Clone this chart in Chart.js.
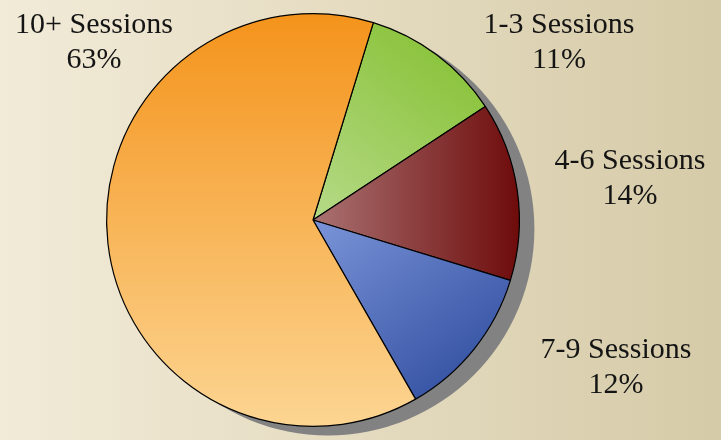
<!DOCTYPE html>
<html>
<head>
<meta charset="utf-8">
<script src="https://cdn.jsdelivr.net/npm/chart.js@4.4.1/dist/chart.umd.min.js"></script>
<style>
  html, body { margin: 0; padding: 0; background: #f2ebd8; }
  canvas { display: block; }
</style>
</head>
<body>
<canvas id="c" width="721" height="440"></canvas>
<script>
// ---- data ----
const categories = ['1-3 Sessions', '4-6 Sessions', '7-9 Sessions', '10+ Sessions'];
const values = [11, 14, 12, 63];
const percentLabels = values.map(v => v + '%');

// ---- styles ----
// gradient per slice: from/to in units of radius relative to pie centre
const sliceGradients = [
  { from: [0, 0], to: [0.62, -0.79], stops: ['#b6da88', '#8cc43e'] },
  { from: [0, 0], to: [1, 0], stops: ['#aa7272', '#6e0b0b'] },
  { from: [0, 0], to: [0.6, 0.8], stops: ['#7b94d8', '#3a57a7'] },
  { from: [0, -1], to: [0, 1], stops: ['#f4931b', '#fcd592'] }
];
// label placement (centre x, baseline of first line)
const labelLayout = [
  { x: 559, y: 33 },
  { x: 630, y: 169 },
  { x: 616, y: 358 },
  { x: 94, y: 33 }
];
const LINE_GAP = 35;
const FONT = '30px "Liberation Serif", "DejaVu Serif", serif';

function sliceFill(c) {
  const chart = c.chart;
  const ca = chart.chartArea;
  const g = sliceGradients[c.dataIndex];
  if (!ca) return g.stops[0];
  const cx = (ca.left + ca.right) / 2;
  const cy = (ca.top + ca.bottom) / 2;
  const r = Math.min(ca.right - ca.left, ca.bottom - ca.top) / 2;
  const grad = chart.ctx.createLinearGradient(
    cx + g.from[0] * r, cy + g.from[1] * r,
    cx + g.to[0] * r, cy + g.to[1] * r);
  grad.addColorStop(0, g.stops[0]);
  grad.addColorStop(1, g.stops[1]);
  return grad;
}

const backgroundPlugin = {
  id: 'bg',
  beforeDraw(chart) {
    const ctx = chart.ctx;
    const g = ctx.createLinearGradient(0, 0, chart.width, 0);
    g.addColorStop(0, '#f2ebd8');
    g.addColorStop(1, '#d6cba8');
    ctx.save();
    ctx.fillStyle = g;
    ctx.fillRect(0, 0, chart.width, chart.height);
    ctx.restore();
  }
};

const shadowPlugin = {
  id: 'shadow',
  beforeDatasetsDraw(chart) {
    const arc = chart.getDatasetMeta(0).data[0];
    if (!arc) return;
    const ctx = chart.ctx;
    ctx.save();
    ctx.fillStyle = '#828282';
    ctx.beginPath();
    ctx.arc(arc.x + 15, arc.y + 9, arc.outerRadius, 0, Math.PI * 2);
    ctx.fill();
    ctx.restore();
  }
};

const labelPlugin = {
  id: 'labels',
  afterDraw(chart) {
    const ctx = chart.ctx;
    ctx.save();
    ctx.font = FONT;
    ctx.fillStyle = '#141414';
    ctx.textAlign = 'center';
    ctx.textBaseline = 'alphabetic';
    chart.data.labels.forEach((lab, i) => {
      const p = labelLayout[i];
      ctx.fillText(lab, p.x, p.y);
      ctx.fillText(percentLabels[i], p.x, p.y + LINE_GAP);
    });
    ctx.restore();
  }
};

new Chart(document.getElementById('c'), {
  type: 'pie',
  data: {
    labels: categories,
    datasets: [{
      data: values,
      backgroundColor: sliceFill,
      borderColor: '#000000',
      borderWidth: 1.2
    }]
  },
  options: {
    responsive: false,
    animation: false,
    rotation: 17,
    layout: { padding: { left: 106, right: 201, top: 13, bottom: 13 } },
    plugins: {
      legend: { display: false },
      tooltip: { enabled: false }
    }
  },
  plugins: [backgroundPlugin, shadowPlugin, labelPlugin]
});
</script>
</body>
</html>
